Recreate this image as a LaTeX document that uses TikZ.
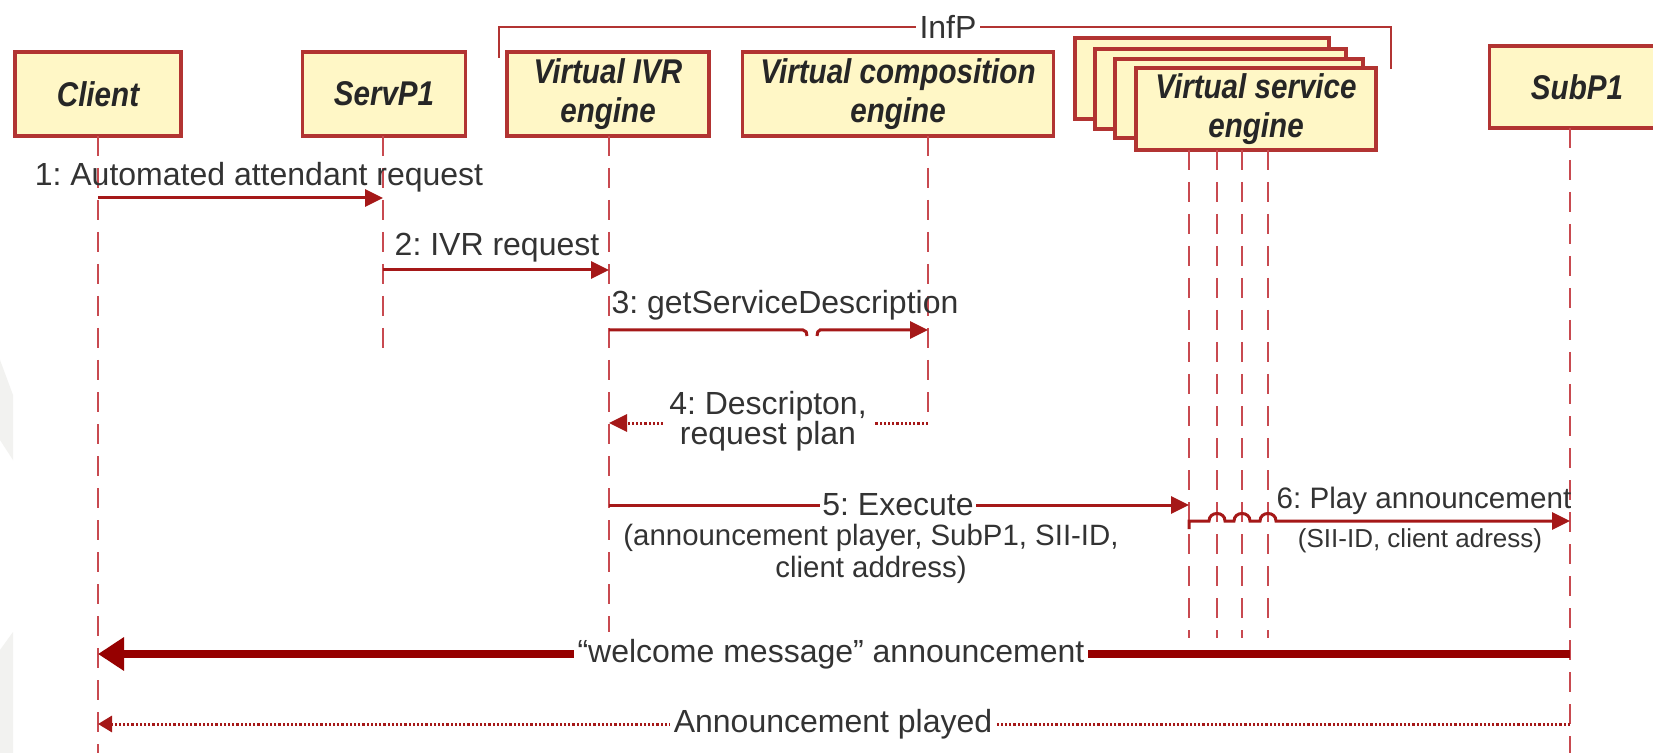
\documentclass[tikz,border=0pt]{standalone}
\usepackage{fontspec}
\usepackage{graphicx}
\setmainfont{Liberation Sans}
\usetikzlibrary{arrows.meta}
\frenchspacing

\definecolor{boxfill}{RGB}{255,247,198}
\definecolor{boxline}{RGB}{178,52,50}
\definecolor{lifeline}{RGB}{200,74,80}
\definecolor{msg}{RGB}{165,24,24}
\definecolor{heavy}{RGB}{150,0,0}
\definecolor{haze}{RGB}{242,242,240}

\newcommand\actorfont{\fontsize{14.8}{19.5}\selectfont\bfseries\itshape}
\newcommand\msgfont{\fontsize{16}{15}\selectfont}
\newcommand\playfont{\fontsize{14.8}{15}\selectfont}
\newcommand\notefont{\fontsize{14.7}{16}\selectfont}
\newcommand\smallnotefont{\fontsize{13}{15}\selectfont}
\newcommand\tallline[1]{\scalebox{1}[1.16]{#1}}

\tikzset{
  actor/.style={draw=boxline, fill=boxfill, line width=1.6pt, inner sep=0pt,
    align=center, font=\actorfont, text=black!85},
  life/.style={draw=lifeline, line width=1.4pt, dash pattern=on 10pt off 6pt},
  msgline/.style={draw=msg, line width=1.5pt, -{Triangle[length=9pt,width=8.5pt]}},
  msgplain/.style={draw=msg, line width=1.5pt},
  reply/.style={draw=msg, line width=1.5pt, dash pattern=on 1.1pt off 1pt,
    -{Triangle[length=9pt,width=8.5pt]}},
  bigmsg/.style={draw=heavy, line width=4pt, -{Triangle[length=13pt,width=16pt]}},
  donemsg/.style={draw=msg, line width=1.5pt, dash pattern=on 1.1pt off 1pt,
    -{Triangle[length=7pt,width=8pt]}},
  label/.style={font=\msgfont, text=black!80, inner sep=1pt},
  cutlabel/.style={label, fill=white, inner sep=3pt},
  note/.style={font=\notefont, text=black!80, inner sep=1pt, align=center},
  bracket/.style={draw=boxline, line width=1.4pt}
}

\begin{document}
\begin{tikzpicture}[x=0.5pt,y=-0.5pt]
\useasboundingbox (0,0) rectangle (1653,753);
\fill[white] (0,0) rectangle (1653,753);

% faint marks along the left edge
\fill[haze] (0,360) -- (13,395) -- (13,460) -- (0,440) -- cycle;
\fill[haze] (0,650) -- (13,632) -- (13,753) -- (0,753) -- cycle;

% InfP grouping bracket
\coordinate (infBL) at (499,58);
\coordinate (infTL) at (499,27);
\coordinate (infTR) at (1391,27);
\coordinate (infBR) at (1391,69);
\draw[bracket] (infBL) -- (infTL) -- (infTR) -- (infBR);
\node[cutlabel, inner sep=2pt] (infp) at (948,27) {InfP};

% participants
\node[actor, minimum width=83pt, minimum height=42pt] (client) at (98,94) {\tallline{Client}};
\node[actor, minimum width=81.5pt, minimum height=42pt] (servp) at (384,94) {\tallline{ServP1}};
\node[actor, minimum width=101pt, minimum height=42pt] (ivr) at (608,94)
  {\tallline{Virtual IVR}\\\tallline{engine}};
\node[actor, minimum width=155.5pt, minimum height=42pt] (comp) at (898,94)
  {\tallline{Virtual composition}\\\tallline{engine}};
\node[actor, minimum width=127pt, minimum height=40.5pt] (sve3) at (1202,78.5) {};
\node[actor, minimum width=125.5pt, minimum height=40pt] (sve2) at (1220.5,89) {};
\node[actor, minimum width=124pt, minimum height=39.5pt] (sve1) at (1239,98.5) {};
\node[actor, minimum width=120pt, minimum height=41pt] (sve) at (1256,109)
  {\tallline{Virtual service}\\\tallline{engine}};
\node[actor, minimum width=87.5pt, minimum height=41pt] (subp) at (1577,87) {\tallline{SubP1}};

% lifelines
\coordinate (clT) at (98,136);   \coordinate (clB) at (98,753);
\coordinate (spT) at (383,136);  \coordinate (spB) at (383,348);
\coordinate (ivT) at (609,136);  \coordinate (ivB) at (609,632);
\coordinate (coT) at (928,136);  \coordinate (coB) at (928,423);
\coordinate (s1T) at (1189,150); \coordinate (s1B) at (1189,638);
\coordinate (s2T) at (1217,150); \coordinate (s2B) at (1217,638);
\coordinate (s3T) at (1242,150); \coordinate (s3B) at (1242,638);
\coordinate (s4T) at (1268,150); \coordinate (s4B) at (1268,638);
\coordinate (suT) at (1570,128); \coordinate (suB) at (1570,753);
\foreach \a/\b in {clT/clB,spT/spB,ivT/ivB,coT/coB,s1T/s1B,s2T/s2B,s3T/s3B,s4T/s4B,suT/suB}
  \draw[life] (\a) -- (\b);

% 1: Automated attendant request
\coordinate (m1a) at (98,198);  \coordinate (m1b) at (383,198);
\draw[msgline] (m1a) -- (m1b);
\node[label] (m1t) at (259,177) {1: Automated attendant request};

% 2: IVR request
\coordinate (m2a) at (383,270); \coordinate (m2b) at (609,270);
\draw[msgline] (m2a) -- (m2b);
\node[label] (m2t) at (497,248) {2: IVR request};

% 3: getServiceDescription (line broken by a small jump)
\coordinate (m3a) at (609,330); \coordinate (m3j) at (803,330);
\coordinate (m3k) at (820,330); \coordinate (m3b) at (928,330);
\draw[msgplain] (m3a) -- (m3j) .. controls (806,330) and (807,333) .. (807,336);
\draw[msgline] (817,336) .. controls (817,333) and (818,330) .. (m3k) -- (m3b);
\node[label] (m3t) at (785,305) {3: getServiceDescription};

% 4: Descripton, request plan (reply)
\coordinate (m4a) at (928,423); \coordinate (m4b) at (609,423);
\draw[reply] (m4a) -- (m4b);
\node[cutlabel, align=center] (m4t) at (768,421) {4: Descripton,\\request plan};

% 5: Execute
\coordinate (m5a) at (609,505); \coordinate (m5b) at (1189,505);
\draw[msgline] (m5a) -- (m5b);
\node[cutlabel, inner sep=1pt] (m5t) at (898,505) {5: Execute};
\node[note] (m5n) at (871,554) {(announcement player, SubP1, SII-ID,\\client address)};

% 6: Play announcement, hopping over the other service lifelines
\coordinate (m6a) at (1189,529); \coordinate (m6b) at (1570,521);
\draw[msgline] (m6a) -- (1189,521) -- (1209,521)
  .. controls (1209,511) and (1225,511) .. (1225,521) -- (1234,521)
  .. controls (1234,511) and (1250,511) .. (1250,521) -- (1260,521)
  .. controls (1260,511) and (1276,511) .. (1276,521) -- (m6b);
\node[label, font=\playfont] (m6t) at (1424,501) {6: Play announcement};
\node[note, font=\smallnotefont] (m6n) at (1420,541) {(SII-ID, client adress)};

% "welcome message" announcement
\coordinate (m7a) at (1570,654); \coordinate (m7b) at (98,654);
\draw[bigmsg] (m7a) -- (m7b);
\node[cutlabel, inner sep=2pt] (m7t) at (831,654) {“welcome message” announcement};

% Announcement played
\coordinate (m8a) at (1570,724); \coordinate (m8b) at (98,724);
\draw[donemsg] (m8a) -- (m8b);
\node[cutlabel, inner sep=2pt] (m8t) at (833,724) {Announcement played};
\end{tikzpicture}
\end{document}
